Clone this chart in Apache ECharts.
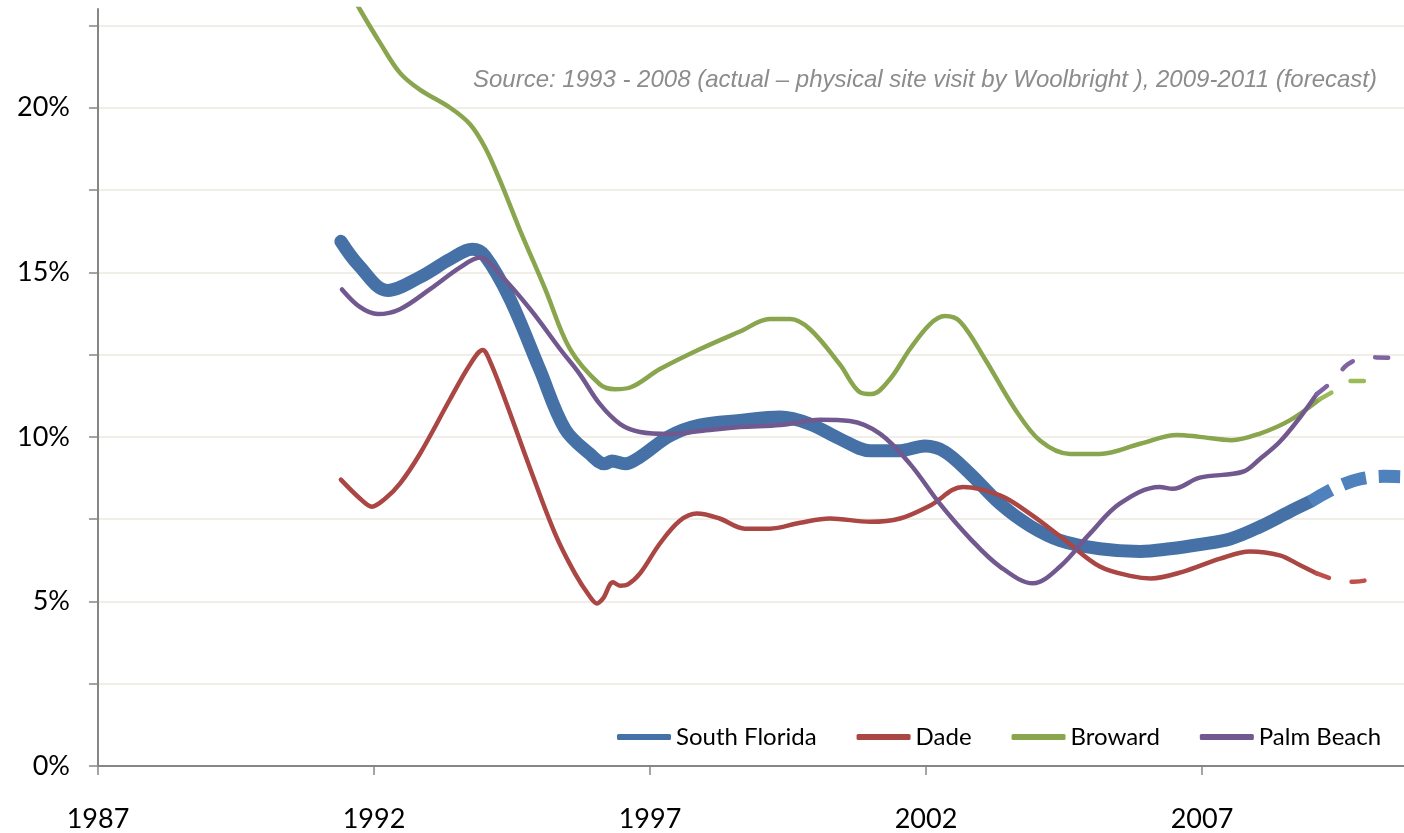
<!DOCTYPE html>
<html>
<head>
<meta charset="utf-8">
<script src="https://cdn.jsdelivr.net/npm/echarts@6/dist/echarts.min.js"></script>
<style>
  html, body { margin: 0; padding: 0; background: #fff; }
  #chart { width: 1404px; height: 833px; }
</style>
</head>
<body>
<div id="chart"></div>
<script>
// vacancy rates (%); x is the year position on the axis
var sfYears = [1991.40, 1991.71, 1992.25, 1992.83, 1993.38, 1993.78, 1994.01, 1994.46, 1995.00, 1995.46, 1995.91, 1996.18, 1996.31, 1996.55, 1996.82, 1997.36, 1997.90, 1998.63, 1999.36, 1999.90, 2000.44, 2000.99, 2001.53, 2001.98, 2002.34, 2002.80, 2003.34, 2003.88, 2004.43, 2005.15, 2005.88, 2006.42, 2006.96, 2007.51, 2008.05, 2008.59, 2008.96];
var sfValues = [15.94, 15.24, 14.45, 14.85, 15.40, 15.70, 15.50, 14.20, 12.06, 10.24, 9.48, 9.18, 9.27, 9.18, 9.39, 10.03, 10.36, 10.50, 10.60, 10.39, 9.94, 9.58, 9.58, 9.72, 9.55, 8.88, 7.97, 7.30, 6.85, 6.60, 6.52, 6.60, 6.73, 6.90, 7.27, 7.73, 8.03];
var sfFcYears = [2008.96, 2009.45, 2009.86, 2010.30, 2010.59];
var sfFcValues = [8.03, 8.48, 8.72, 8.80, 8.79];

var dadeYears = [1991.40, 1991.75, 1991.96, 1992.20, 1992.47, 1992.83, 1993.38, 1993.74, 1993.97, 1994.10, 1994.37, 1994.83, 1995.28, 1995.64, 1995.91, 1996.04, 1996.15, 1996.33, 1996.46, 1996.60, 1996.82, 1997.18, 1997.54, 1997.85, 1998.26, 1998.72, 1999.17, 1999.72, 2000.26, 2000.99, 2001.53, 2002.07, 2002.67, 2003.34, 2003.88, 2004.49, 2005.15, 2005.75, 2006.07, 2006.65, 2007.33, 2007.87, 2008.41, 2008.78, 2009.08];
var dadeValues = [8.70, 8.12, 7.88, 8.12, 8.58, 9.48, 11.15, 12.20, 12.64, 12.30, 11.15, 9.03, 7.06, 5.85, 5.15, 4.94, 5.09, 5.58, 5.48, 5.52, 5.85, 6.76, 7.45, 7.67, 7.52, 7.21, 7.21, 7.39, 7.52, 7.42, 7.52, 7.91, 8.48, 8.22, 7.67, 6.90, 6.06, 5.76, 5.70, 5.90, 6.30, 6.52, 6.40, 6.10, 5.85];
var dadeFcYears = [2009.08, 2009.46, 2009.75, 2010.00, 2010.16];
var dadeFcValues = [5.85, 5.64, 5.60, 5.66, 5.85];

var browardYears = [1991.40, 1991.75, 1992.11, 1992.47, 1992.83, 1993.38, 1993.74, 1994.01, 1994.28, 1994.64, 1995.10, 1995.55, 1996.09, 1996.37, 1996.64, 1997.18, 1997.91, 1998.63, 1999.17, 1999.54, 1999.90, 2000.44, 2000.80, 2001.02, 2001.35, 2001.71, 2002.07, 2002.34, 2002.62, 2003.07, 2003.61, 2004.07, 2004.61, 2005.15, 2005.88, 2006.55, 2006.96, 2007.54, 2008.05, 2008.59, 2009.14];
var browardValues = [24.0, 22.97, 21.97, 21.06, 20.55, 20.0, 19.5, 18.8, 17.8, 16.3, 14.5, 12.67, 11.6, 11.45, 11.5, 12.06, 12.67, 13.2, 13.58, 13.58, 13.27, 12.2, 11.36, 11.3, 11.76, 12.67, 13.42, 13.67, 13.5, 12.36, 10.85, 9.88, 9.48, 9.48, 9.79, 10.06, 10.0, 9.9, 10.1, 10.5, 11.15];
var browardFcYears = [2009.14, 2009.45, 2009.67, 2010.05];
var browardFcValues = [11.15, 11.45, 11.70, 11.70];

var pbYears = [1991.42, 1991.75, 1992.07, 1992.47, 1993.01, 1993.56, 1993.92, 1994.28, 1994.83, 1995.37, 1995.73, 1996.09, 1996.46, 1996.82, 1997.36, 1997.91, 1998.63, 1999.36, 2000.08, 2000.62, 2001.17, 2001.71, 2002.25, 2002.80, 2003.34, 2003.94, 2004.43, 2004.97, 2005.51, 2006.23, 2006.47, 2006.96, 2007.74, 2008.05, 2008.41, 2008.78, 2009.08];
var pbValues = [14.48, 13.94, 13.73, 13.88, 14.48, 15.15, 15.45, 14.94, 13.88, 12.67, 11.90, 11.00, 10.39, 10.15, 10.09, 10.18, 10.30, 10.36, 10.52, 10.48, 10.09, 9.18, 7.97, 6.91, 6.06, 5.55, 6.06, 7.06, 7.97, 8.48, 8.42, 8.76, 8.94, 9.33, 9.85, 10.60, 11.30];
var pbFcYears = [2009.08, 2009.37, 2009.64, 2009.99, 2010.41];
var pbFcValues = [11.30, 11.70, 12.20, 12.42, 12.40];

var regionNames = ['South Florida', 'Dade', 'Broward', 'Palm Beach'];
var xTicks = [1987, 1992, 1997, 2002, 2007];
var sourceNote = 'Source: 1993 - 2008 (actual \u2013 physical site visit by Woolbright ), 2009-2011 (forecast)';

function pairs(xs, ys) {
  return xs.map(function (x, i) { return [x, ys[i]]; });
}

function makeSeries(name, xs, ys, color, width, dash) {
  return {
    name: name,
    type: 'line',
    smooth: 0.35,
    showSymbol: false,
    symbol: 'none',
    data: pairs(xs, ys),
    itemStyle: { color: color },
    lineStyle: {
      color: color,
      width: width,
      type: dash || 'solid',
      cap: width > 10 && dash ? 'butt' : 'round',
      join: 'round'
    },
    emphasis: { disabled: true }
  };
}

var chart = echarts.init(document.getElementById('chart'));

var thickDash = [24, 13];
var thinDash = [13, 23];

var option = {
  animation: false,
  backgroundColor: '#ffffff',
  title: {
    text: sourceNote,
    right: 22,
    top: 63,
    textStyle: {
      fontFamily: 'Liberation Sans',
      fontStyle: 'italic',
      fontWeight: 'normal',
      fontSize: 24,
      color: '#8c8c8c'
    }
  },
  legend: {
    data: regionNames,
    left: 612,
    top: 720,
    itemGap: 40,
    itemWidth: 54,
    itemHeight: 6,
    icon: 'roundRect',
    textStyle: { fontFamily: 'Lato', fontSize: 24, color: '#000' }
  },
  grid: { left: 98, right: 0, top: 9, bottom: 65 },
  xAxis: {
    type: 'value',
    min: 1987,
    max: 2010.66,
    interval: 5,
    axisLine: { lineStyle: { color: '#868686', width: 2 } },
    axisTick: { length: 9, lineStyle: { color: '#868686', width: 1.5 } },
    axisLabel: {
      margin: 40,
      fontFamily: 'Lato',
      fontSize: 27,
      color: '#000',
      showMaxLabel: false,
      formatter: function (v) { return xTicks.indexOf(v) >= 0 ? String(v) : ''; }
    },
    splitLine: { show: false }
  },
  yAxis: {
    type: 'value',
    min: 0,
    max: 23,
    interval: 2.5,
    axisLine: { show: true, lineStyle: { color: '#868686', width: 2 } },
    axisTick: { show: true, length: 9, lineStyle: { color: '#868686', width: 1.5 } },
    axisLabel: {
      margin: 28,
      fontFamily: 'Lato',
      fontSize: 27,
      color: '#000',
      showMaxLabel: false,
      formatter: function (v) { return v % 5 === 0 ? v + '%' : ''; }
    },
    splitLine: { showMaxLine: false, lineStyle: { color: '#ece9df', width: 1.5 } }
  },
  series: [
    makeSeries(regionNames[0], sfYears, sfValues, '#4571a7', 13),
    makeSeries(regionNames[1], dadeYears, dadeValues, '#aa4643', 4.5),
    makeSeries(regionNames[2], browardYears, browardValues, '#89a54e', 4.5),
    makeSeries(regionNames[3], pbYears, pbValues, '#71588f', 4.5),
    makeSeries(regionNames[0], sfFcYears, sfFcValues, '#4f81bd', 13, thickDash),
    makeSeries(regionNames[1], dadeFcYears, dadeFcValues, '#c0504d', 4.5, thinDash),
    makeSeries(regionNames[2], browardFcYears, browardFcValues, '#9bbb59', 4.5, thinDash),
    makeSeries(regionNames[3], pbFcYears, pbFcValues, '#8064a2', 4.5, thinDash)
  ]
};

chart.setOption(option);
window.onresize = chart.resize;
</script>
</body>
</html>
